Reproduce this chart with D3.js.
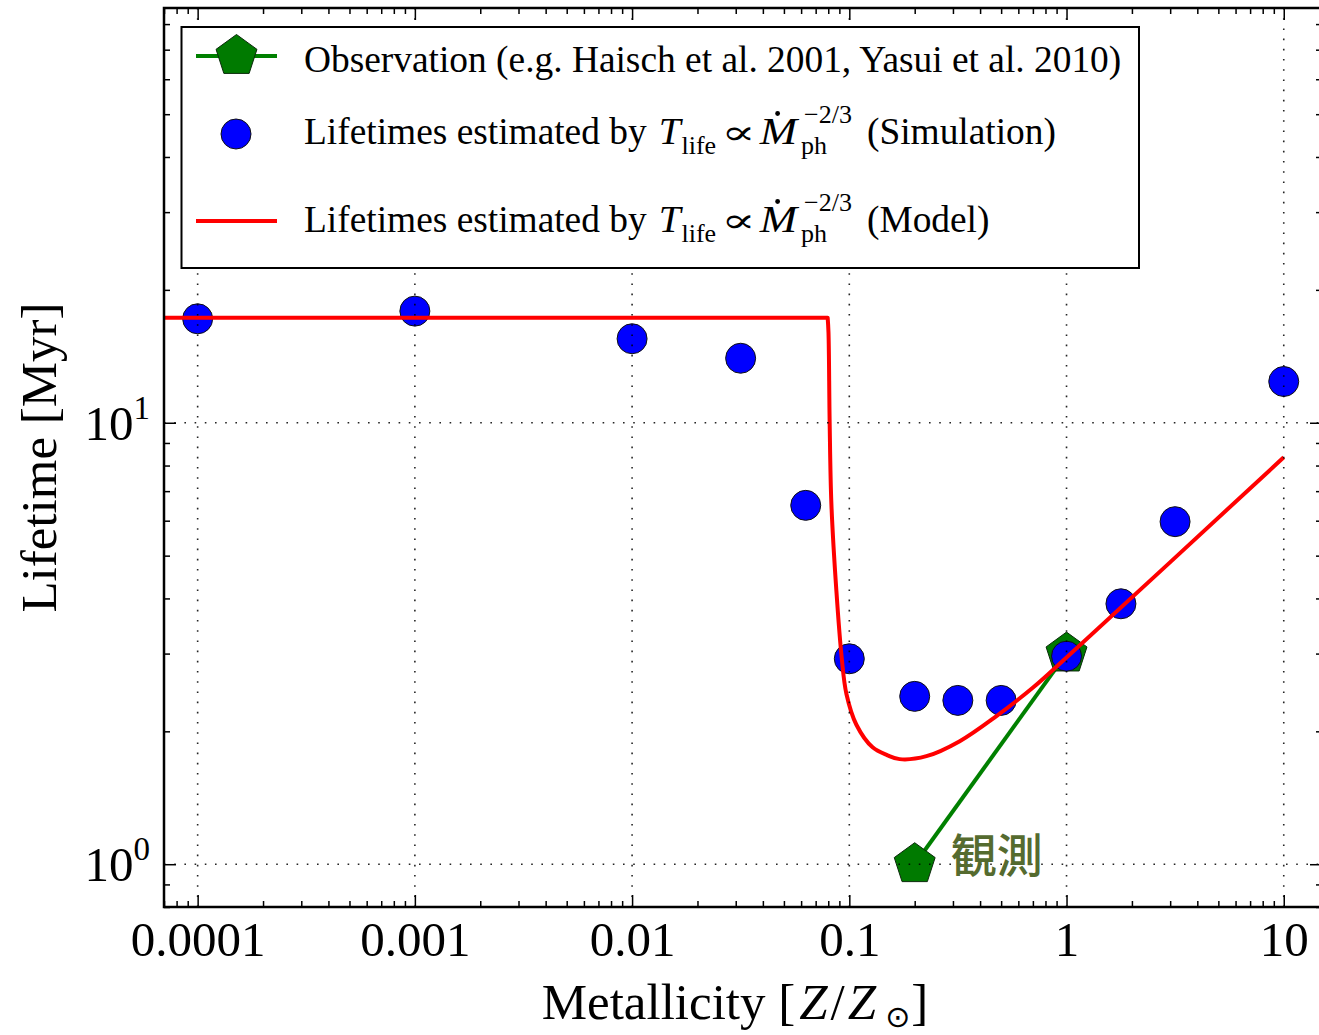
<!DOCTYPE html>
<html>
<head>
<meta charset="utf-8">
<script src="https://cdn.jsdelivr.net/npm/d3@7"></script>
<style>
  html, body { margin: 0; padding: 0; background: #fff; }
  svg { display: block; }
  text { font-family: "Liberation Serif", "DejaVu Serif", serif; fill: #000; }
</style>
</head>
<body>
<svg id="chart" width="1319" height="1035"></svg>
<script>
// Simulation: lifetimes from the photoevaporation rate
const simZ = [1e-4, 1e-3, 1e-2, 0.0316, 0.063, 0.1, 0.2, 0.316, 0.5, 1, 1.78, 3.16, 10];
const simT = [17.2, 17.9, 15.5, 14.0, 6.5, 2.92, 2.40, 2.35, 2.35, 2.96, 3.89, 5.97, 12.4];

// Model curve: a flat plateau at low metallicity, then a steep drop and a rise
const modelZ = [7e-5, 0.0795, 0.0802, 0.0812, 0.0827, 0.0872, 0.0923, 0.097, 0.1078, 0.128, 0.15, 0.1706, 0.2265, 0.3224, 0.4757, 0.699, 1.0, 10];
const modelT = [17.3, 17.3, 16.0, 10.0, 6.55, 4.16, 2.93, 2.43, 2.07, 1.84, 1.765, 1.73, 1.757, 1.90, 2.166, 2.51, 2.94, 8.35];
const plateauEnd = 0.0795;

// Observations
const obsZ = [0.2, 1];
const obsT = [1.0, 3.0];

// Axis ticks
const xMajor = [1e-4, 1e-3, 1e-2, 0.1, 1, 10];
const xTickLabels = ["0.0001", "0.001", "0.01", "0.1", "1", "10"];
const yMajor = [1, 10];
const yTickExp = ["0", "1"];

const legendLabels = [
  "Observation (e.g. Haisch et al. 2001, Yasui et al. 2010)",
  "Lifetimes estimated by",
  "Lifetimes estimated by"
];
const legendTails = ["", "(Simulation)", "(Model)"];
const annotation = "観測";

const svg = d3.select("#chart");
const L = 164, R = 1322, T = 8, B = 907;

const x = d3.scaleLog().domain([7e-5, 15]).range([L, R]);
const y = d3.scaleLog().domain([0.8, 87]).range([B, T]);

function minorTicks(lo, hi) {
  const out = [];
  for (let k = -6; k <= 3; k++) {
    for (let m = 2; m <= 9; m++) {
      const v = m * Math.pow(10, k);
      if (v >= lo * 0.999 && v <= hi * 1.001) out.push(v);
    }
  }
  return out;
}
const xMinor = minorTicks(7e-5, 15);
const yMinor = minorTicks(0.8, 87);

svg.append("defs").append("clipPath").attr("id", "plotclip")
  .append("rect").attr("x", L).attr("y", T).attr("width", R - L).attr("height", B - T);

const plot = svg.append("g");

// Pentagon marker path centred on the origin
function pentagon(r) {
  const pts = d3.range(5).map(i => {
    const a = -Math.PI / 2 + i * 2 * Math.PI / 5;
    return [r * Math.cos(a), r * Math.sin(a)];
  });
  return "M" + pts.map(p => p.join(",")).join("L") + "Z";
}

// Observation line and markers
const obs = obsZ.map((z, i) => [z, obsT[i]]);
plot.append("path")
  .datum(obs)
  .attr("d", d3.line().x(d => x(d[0])).y(d => y(d[1])))
  .attr("fill", "none").attr("stroke", "#008000").attr("stroke-width", 4);
plot.selectAll(".obs").data(obs).enter().append("path")
  .attr("transform", d => `translate(${x(d[0])},${y(d[1])})`)
  .attr("d", pentagon(21.5))
  .attr("fill", "#007a00").attr("stroke", "#0b2a0b").attr("stroke-width", 1);

// Simulation points
const sim = simZ.map((z, i) => [z, simT[i]]);
plot.selectAll(".sim").data(sim).enter().append("circle")
  .attr("cx", d => x(d[0])).attr("cy", d => y(d[1])).attr("r", 15)
  .attr("fill", "#0000ff").attr("stroke", "#111").attr("stroke-width", 1);

// Model curve: straight plateau joined to a smooth dip
const model = modelZ.map((z, i) => [z, modelT[i]]);
const plateau = model.filter(d => d[0] <= plateauEnd);
const dip = model.filter(d => d[0] >= plateauEnd);
const flatLine = d3.line().x(d => x(d[0])).y(d => y(d[1]));
const smoothLine = d3.line().x(d => x(d[0])).y(d => y(d[1])).curve(d3.curveCatmullRom.alpha(0.5));
plot.append("path")
  .attr("clip-path", "url(#plotclip)")
  .attr("d", flatLine(plateau) + smoothLine(dip).replace(/^M/, "L"))
  .attr("fill", "none").attr("stroke", "#ff0000").attr("stroke-width", 4)
  .attr("stroke-linejoin", "round");

// Dotted grid at the major ticks
const grid = svg.append("g").attr("stroke", "#000").attr("stroke-width", 1.6)
  .attr("stroke-dasharray", "1.6,8.6").attr("opacity", 0.85);
grid.selectAll(".gx").data(xMajor).enter().append("line")
  .attr("x1", d => x(d)).attr("x2", d => x(d)).attr("y1", T).attr("y2", B);
grid.selectAll(".gy").data(yMajor).enter().append("line")
  .attr("x1", L).attr("x2", R).attr("y1", d => y(d)).attr("y2", d => y(d));

// Ticks on all four sides, pointing inward
function tickAxis(axisFn, scale, vals, size, pos, isX) {
  const g = svg.append("g")
    .attr("transform", isX ? `translate(0,${pos})` : `translate(${pos},0)`)
    .call(axisFn(scale).tickValues(vals).tickSize(size).tickFormat(""));
  g.select(".domain").remove();
  g.selectAll(".tick line").attr("stroke", "#000").attr("stroke-width", 1.5);
  return g;
}
tickAxis(d3.axisBottom, x, xMinor, -6, B, true);
tickAxis(d3.axisTop, x, xMinor, -6, T, true);
tickAxis(d3.axisLeft, y, yMinor, -6, L, false);
tickAxis(d3.axisRight, y, yMinor, -6, R, false);
tickAxis(d3.axisTop, x, xMajor, -12, T, true);
tickAxis(d3.axisRight, y, yMajor, -12, R, false);

// Bottom axis with labels
const xAxisG = svg.append("g").attr("transform", `translate(0,${B})`)
  .call(d3.axisBottom(x).tickValues(xMajor).tickSize(-12).tickPadding(14)
    .tickFormat((d, i) => xTickLabels[i]));
xAxisG.select(".domain").remove();
xAxisG.selectAll(".tick line").attr("stroke", "#000").attr("stroke-width", 1.5);
xAxisG.selectAll(".tick text").attr("font-size", 49).attr("fill", "#000")
  .style("font-family", '"Liberation Serif","DejaVu Serif",serif');

// Left axis with 10^n labels
const yAxisG = svg.append("g").attr("transform", `translate(${L},0)`)
  .call(d3.axisLeft(y).tickValues(yMajor).tickSize(-12).tickFormat(""));
yAxisG.select(".domain").remove();
yAxisG.selectAll(".tick line").attr("stroke", "#000").attr("stroke-width", 1.5);
yAxisG.selectAll(".tick").each(function (d, i) {
  const t = d3.select(this).append("text")
    .attr("x", -14).attr("y", 16.5).attr("text-anchor", "end")
    .attr("font-size", 49).attr("fill", "#000");
  t.append("tspan").text("10");
  t.append("tspan").attr("font-size", 33).attr("dy", -21).text(yTickExp[i]);
});

// Frame
svg.append("rect").attr("x", L).attr("y", T).attr("width", R - L).attr("height", B - T)
  .attr("fill", "none").attr("stroke", "#000").attr("stroke-width", 2.5);

// Lays out a run of text pieces with sub/superscripts
function richText(parent, x0, base, pieces, size) {
  let cx = x0;
  let last = null;
  pieces.forEach(p => {
    if (p.gap) { cx += p.gap; return; }
    if (p.dot) {
      parent.append("circle").attr("cx", last.x + last.w * p.dot[0]).attr("cy", base - p.dot[1])
        .attr("r", 2.4).attr("fill", "#000");
      return;
    }
    if (p.sub !== undefined || p.sup !== undefined) {
      let w = 0;
      if (p.sub !== undefined) {
        const t = parent.append("text").attr("x", cx).attr("y", base + p.subDy)
          .attr("font-size", p.subSize).text(p.sub);
        if (p.subFont) t.style("font-family", p.subFont);
        w = Math.max(w, t.node().getComputedTextLength());
      }
      if (p.sup !== undefined) {
        const t = parent.append("text").attr("x", cx + (p.supShift || 0)).attr("y", base - p.supDy)
          .attr("font-size", p.supSize).text(p.sup);
        w = Math.max(w, t.node().getComputedTextLength() + (p.supShift || 0));
      }
      cx += w;
      return;
    }
    const sx = p.sx || 1;
    const t = parent.append("text")
      .attr("transform", `translate(${cx},${base}) scale(${sx},1)`)
      .attr("font-size", p.size || size)
      .attr("font-style", p.italic ? "italic" : null)
      .text(p.t);
    if (p.font) t.style("font-family", p.font);
    const w = t.node().getComputedTextLength() * sx;
    last = { x: cx, w: w };
    cx += w;
  });
  return cx;
}

// Legend
const lg = svg.append("g");
lg.append("rect").attr("x", 181.5).attr("y", 27).attr("width", 957.5).attr("height", 241)
  .attr("fill", "#fff").attr("stroke", "#000").attr("stroke-width", 2);
const rowY = [56, 134, 221];
const baseY = [71.5, 143.5, 231.5];
const legendSize = 37.4;
// row 1: observation
lg.append("line").attr("x1", 196).attr("x2", 277).attr("y1", rowY[0]).attr("y2", rowY[0])
  .attr("stroke", "#008000").attr("stroke-width", 4);
lg.append("path").attr("transform", `translate(236.5,${rowY[0]})`).attr("d", pentagon(21.5))
  .attr("fill", "#007a00").attr("stroke", "#0b2a0b").attr("stroke-width", 1);
lg.append("text").attr("x", 304).attr("y", baseY[0]).attr("font-size", legendSize).text(legendLabels[0]);
// row 2: simulation marker
lg.append("circle").attr("cx", 236).attr("cy", rowY[1]).attr("r", 15)
  .attr("fill", "#0000ff").attr("stroke", "#111").attr("stroke-width", 1);
// row 3: model line
lg.append("line").attr("x1", 196).attr("x2", 277).attr("y1", rowY[2]).attr("y2", rowY[2])
  .attr("stroke", "#ff0000").attr("stroke-width", 4);

function formulaRow(i) {
  richText(lg, 304, baseY[i], [
    { t: legendLabels[i] },
    { gap: 12 },
    { t: "T", italic: true, sx: 1.05 },
    { gap: 1 },
    { sub: "life", subDy: 10, subSize: 26 },
    { gap: 5 },
    { t: "∝", font: '"DejaVu Serif", serif', size: 34, sx: 1.5 },
    { gap: 4 },
    { t: "M", italic: true, sx: 1.2 },
    { dot: [0.48, 30] },
    { gap: 4 },
    { sub: "ph", subDy: 10, subSize: 26, sup: "−2/3", supDy: 21, supSize: 26, supShift: 3 },
    { gap: 15 },
    { t: legendTails[i] }
  ], legendSize);
}
formulaRow(1);
formulaRow(2);

// Axis titles
const xl = svg.append("g");
const xlPieces = [
  { t: "Metallicity [" },
  { gap: 4 },
  { t: "Z", italic: true },
  { gap: 3 },
  { t: "/" },
  { gap: 3 },
  { t: "Z", italic: true },
  { gap: 9 },
  { sub: "⊙", subDy: 8, subSize: 30, subFont: '"DejaVu Sans", sans-serif' },
  { gap: 1 },
  { t: "]" }
];
// measure once to centre the title under the axes
const tmp = svg.append("g");
const wTitle = richText(tmp, 0, -100, xlPieces, 51);
tmp.remove();
richText(xl, (L + R) / 2 - wTitle / 2 - 8, 1019, xlPieces, 51);

svg.append("text")
  .attr("transform", `translate(56,${(T + B) / 2}) rotate(-90)`)
  .attr("text-anchor", "middle").attr("font-size", 51)
  .text("Lifetime [Myr]");

// Annotation next to the observed point
svg.append("text")
  .attr("x", x(obsZ[0]) + 36).attr("y", y(obsT[0]) + 8)
  .attr("font-size", 46)
  .style("font-family", '"Noto Sans CJK JP", sans-serif')
  .style("font-weight", 500)
  .style("fill", "#556b2f")
  .text(annotation);
</script>
</body>
</html>
